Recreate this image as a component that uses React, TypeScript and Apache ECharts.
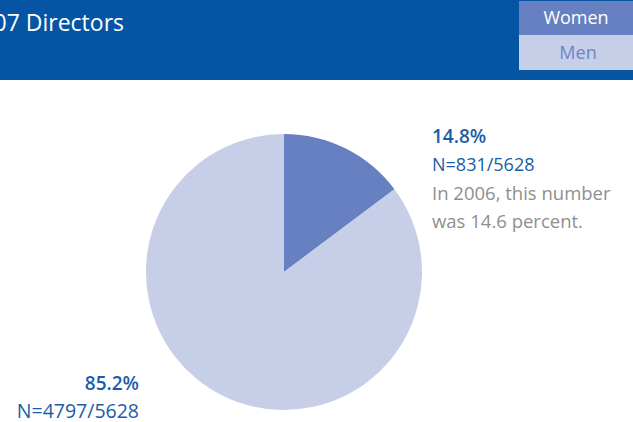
import React, { useEffect, useRef } from "react";
import * as echarts from "echarts";

const categories = ["Women", "Men"];
const values = [831, 4797];
const total = 5628;
const percents = ["14.8%", "85.2%"];
const note = ["In 2006, this number", "was 14.6 percent."];
const title = "2007 Directors";
const colors = ["#6680c1", "#c7cee8"];

export default function App() {
  const ref = useRef<HTMLDivElement>(null);
  useEffect(() => {
    document.body.style.margin = "0";
    const chart = echarts.init(ref.current!, null, { renderer: "svg" });
    const font = "'Open Sans', 'Noto Sans', sans-serif";
    chart.setOption({
      animation: false,
      backgroundColor: "#ffffff",
      series: [
        {
          type: "pie",
          center: [284, 272],
          radius: [0, 138],
          startAngle: 90,
          clockwise: true,
          label: { show: false },
          labelLine: { show: false },
          emphasis: { disabled: true },
          silent: true,
          itemStyle: { borderWidth: 0 },
          data: categories.map((c, i) => ({ name: c, value: values[i], itemStyle: { color: colors[i] } })),
        },
      ],
      graphic: [
        { type: "rect", shape: { x: 0, y: 0, width: 633, height: 80 }, style: { fill: "#0655a5" } },
        { type: "text", x: 124, y: 22, style: { text: title, fill: "#ffffff", font: `23px ${font}`, textAlign: "right", textVerticalAlign: "middle" } },
        { type: "rect", shape: { x: 519, y: 1, width: 114, height: 34 }, style: { fill: colors[0] } },
        { type: "rect", shape: { x: 519, y: 35, width: 114, height: 35 }, style: { fill: colors[1] } },
        { type: "text", x: 576, y: 17, style: { text: categories[0], fill: "#ffffff", font: `18px ${font}`, textAlign: "center", textVerticalAlign: "middle" } },
        { type: "text", x: 578, y: 52, style: { text: categories[1], fill: "#6a86c8", font: `18px ${font}`, textAlign: "center", textVerticalAlign: "middle" } },
        { type: "text", x: 432, y: 136, style: { text: percents[0], fill: "#1a5ca8", font: `600 19px ${font}`, textVerticalAlign: "middle" } },
        { type: "text", x: 432, y: 164, style: { text: `N=${values[0]}/${total}`, fill: "#1a5ca8", font: `18px ${font}`, textVerticalAlign: "middle" } },
        { type: "text", x: 432, y: 192, style: { text: note[0], fill: "#8f8f8f", font: `18.5px ${font}`, textVerticalAlign: "middle" } },
        { type: "text", x: 432, y: 220, style: { text: note[1], fill: "#8f8f8f", font: `18.5px ${font}`, textVerticalAlign: "middle" } },
        { type: "text", x: 139, y: 383, style: { text: percents[1], fill: "#1a5ca8", font: `600 19px ${font}`, textAlign: "right", textVerticalAlign: "middle" } },
        { type: "text", x: 139, y: 410, style: { text: `N=${values[1]}/${total}`, fill: "#1a5ca8", font: `19.5px ${font}`, textAlign: "right", textVerticalAlign: "middle" } },
      ],
    });
    return () => chart.dispose();
  }, []);
  return <div ref={ref} style={{ width: 633, height: 422 }} />;
}
